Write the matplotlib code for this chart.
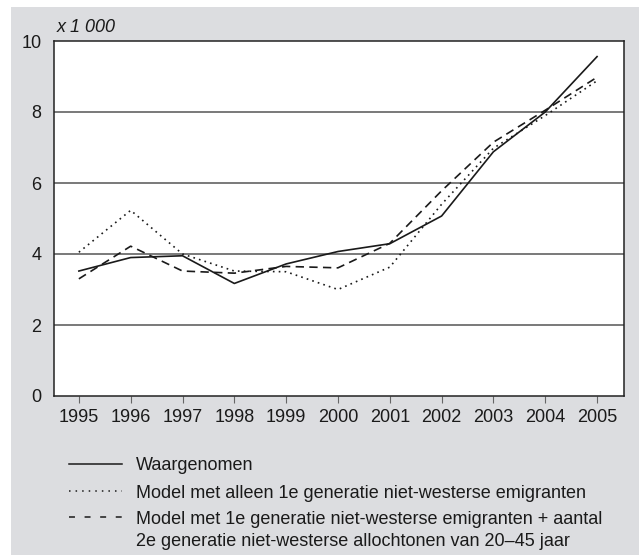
import matplotlib as mpl
import matplotlib.pyplot as plt
from matplotlib.lines import Line2D
from matplotlib.patches import Rectangle

mpl.rcParams.update({
    "font.family": ["Liberation Sans", "DejaVu Sans"],
    "font.size": 13,
})

# data (x 1 000)
years = [1995, 1996, 1997, 1998, 1999, 2000, 2001, 2002, 2003, 2004, 2005]
waargenomen = [3.52, 3.9, 3.95, 3.17, 3.72, 4.07, 4.29, 5.07, 6.88, 8.0, 9.56]
model_1e = [4.05, 5.23, 4.0, 3.52, 3.5, 3.0, 3.63, 5.4, 6.98, 7.9, 8.88]
model_1e_2e = [3.3, 4.22, 3.52, 3.46, 3.65, 3.61, 4.3, 5.78, 7.15, 8.05, 8.98]

labels = [
    "Waargenomen",
    "Model met alleen 1e generatie niet-westerse emigranten",
    "Model met 1e generatie niet-westerse emigranten + aantal\n"
    "2e generatie niet-westerse allochtonen van 20\u201345 jaar",
]
yticks = [0, 2, 4, 6, 8, 10]

W, H = 639, 555
fig = plt.figure(figsize=(W / 100, H / 100), dpi=100, facecolor="white")

# grey panel behind everything
fig.patches.append(Rectangle((11 / W, 0), 1 - 11 / W, (H - 7) / H,
                             transform=fig.transFigure, facecolor="#dcdde0",
                             edgecolor="none", zorder=-10))

ax = fig.add_axes([54 / W, 1 - 396 / H, (624 - 54) / W, (396 - 41) / H])
ax.set_facecolor("white")

line_col = "#1a1a1a"
dot_style = (0, (1, 2.5))
dash_style = (0, (5, 3.2))
ax.plot(years, waargenomen, color=line_col, lw=1.2, linestyle="-")
ax.plot(years, model_1e, color=line_col, lw=1.2, linestyle=dot_style)
ax.plot(years, model_1e_2e, color=line_col, lw=1.2, linestyle=dash_style)

ax.set_xlim(1994.52, 2005.52)
ax.set_ylim(0, 10)
ax.set_xticks(years)
ax.set_xticklabels([str(y) for y in years])
ax.set_yticks(yticks)
ax.tick_params(axis="y", length=0, pad=9, labelcolor="#1a1a1a")
ax.tick_params(axis="x", length=5, direction="out", color="#666666", pad=4,
               labelcolor="#1a1a1a")
for g in yticks[1:-1]:
    ax.axhline(g, color="#555555", lw=1.1, zorder=0)
for s in ax.spines.values():
    s.set_color("#222222")
    s.set_linewidth(1.1)

fig.text(57 / W, 1 - 28 / H, "x 1 000", style="italic", va="center",
         ha="left", fontsize=13, color="#1a1a1a")

# legend drawn by hand
rows = [464, 491, 517]
styles = ["-", (0, (1, 3.3)), (0, (3.9, 6.3))]
for y, st, lab in zip(rows, styles, labels):
    fig.add_artist(Line2D([69 / W, 122 / W], [1 - y / H, 1 - y / H],
                          transform=fig.transFigure, color=line_col,
                          lw=1.1, linestyle=st))
    for k, part in enumerate(lab.split("\n")):
        fig.text(136 / W, 1 - (y + 23 * k) / H, part, va="center_baseline",
                 ha="left", fontsize=13, color="#1a1a1a")

fig.savefig("out.png", dpi=100, facecolor="white")
